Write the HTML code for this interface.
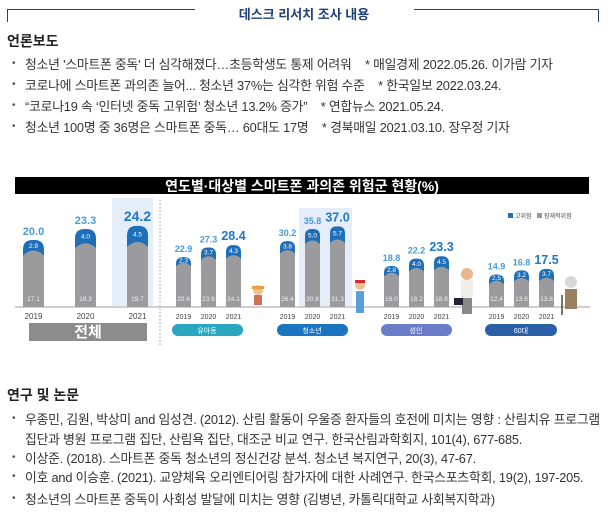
<!DOCTYPE html>
<html><head><meta charset="utf-8"><style>
body{margin:0;width:608px;height:525px;background:#fff;position:relative;overflow:hidden;font-family:"Liberation Sans","Noto Sans CJK KR",sans-serif;color:#333}
.a{position:absolute;white-space:nowrap}
.h{font-size:14px;font-weight:bold;color:#222}
.b{font-size:12.8px;letter-spacing:-0.2px;left:25px;line-height:16px}
.d{position:absolute;left:12px;font-size:10px;color:#555}
</style></head><body>
<div class="a" style="left:7px;top:9px;width:187px;height:12px;border-top:1.5px solid #1f3f75;border-left:1.5px solid #1f3f75"></div>
<div class="a" style="left:414px;top:9px;width:184px;height:12px;border-top:1.5px solid #1f3f75;border-right:1.5px solid #1f3f75"></div>
<div class="a" style="left:200px;top:4px;width:208px;text-align:center;font-size:13px;font-weight:bold;color:#1f3f75">데스크 리서치 조사 내용</div>
<div class="a h" style="left:7px;top:31px">언론보도</div>
<div class="d" style="top:58px">•</div><div class="a b" style="top:57px">청소년 '스마트폰 중독' 더 심각해졌다…초등학생도 통제 어려워 &nbsp;&nbsp; * 매일경제 2022.05.26. 이가람 기자</div>
<div class="d" style="top:79px">•</div><div class="a b" style="top:78px">코로나에 스마트폰 과의존 늘어... 청소년 37%는 심각한 위험 수준 &nbsp;&nbsp; * 한국일보 2022.03.24.</div>
<div class="d" style="top:100px">•</div><div class="a b" style="top:99px">“코로나19 속 ‘인터넷 중독 고위험’ 청소년 13.2% 증가” &nbsp;&nbsp; * 연합뉴스 2021.05.24.</div>
<div class="d" style="top:121px">•</div><div class="a b" style="top:120px">청소년 100명 중 36명은 스마트폰 중독… 60대도 17명 &nbsp;&nbsp; * 경북매일 2021.03.10. 장우정 기자</div>

<svg class="a" style="left:0;top:0" width="608" height="525" font-family="Liberation Sans, Noto Sans CJK KR, sans-serif">
<rect x="15" y="177" width="574" height="17" fill="#000"/>
<text x="302" y="191" fill="#fff" font-size="14" font-weight="bold" text-anchor="middle">연도별·대상별 스마트폰 과의존 위험군 현황(%)</text>
<rect x="112" y="198" width="41" height="109" fill="#e4edf8"/>
<rect x="299" y="208" width="53" height="99" fill="#e4edf8"/>
<line x1="15" y1="307" x2="590" y2="307" stroke="#cfcfcf" stroke-width="2"/>
<line x1="160" y1="200" x2="160" y2="345" stroke="#999" stroke-dasharray="1.5,2"/>
<rect x="508" y="213" width="5" height="5" fill="#1f6fb8"/><text x="515" y="218" font-size="6" fill="#444">고위험</text>
<rect x="537" y="213" width="5" height="5" fill="#999"/><text x="544" y="218" font-size="6" fill="#444">잠재적위험</text>
<g id="bars"></g>
<rect x="29" y="323" width="118" height="18" fill="#8c8c8c"/><text x="88" y="337" fill="#fff" font-size="15" font-weight="bold" text-anchor="middle">전체</text>
<rect x="172" y="324" width="71" height="12" rx="6" fill="#2aa6c0"/><text x="207" y="333" fill="#fff" font-size="7" text-anchor="middle">유아동</text>
<rect x="277" y="324" width="71" height="12" rx="6" fill="#1a74c0"/><text x="312" y="333" fill="#fff" font-size="7" text-anchor="middle">청소년</text>
<rect x="381" y="324" width="71" height="12" rx="6" fill="#6b7dc9"/><text x="416" y="333" fill="#fff" font-size="7" text-anchor="middle">성인</text>
<rect x="485" y="324" width="72" height="12" rx="6" fill="#2a5fa8"/><text x="521" y="333" fill="#fff" font-size="7" text-anchor="middle">60대</text>
<g><circle cx="258" cy="290" r="5" fill="#f0c090"/><rect x="254" y="295" width="8" height="10" fill="#d0705a"/><rect x="252" y="286" width="12" height="3" fill="#e8a040"/></g>
<g><circle cx="360" cy="285" r="5" fill="#f0c090"/><rect x="355" y="280" width="10" height="3" fill="#d03030"/><rect x="356" y="291" width="8" height="22" fill="#5aa0d8"/></g>
<g><circle cx="467" cy="274" r="6" fill="#e8b890"/><rect x="461" y="280" width="12" height="18" fill="#f0eee8"/><rect x="462" y="298" width="10" height="16" fill="#888"/><rect x="454" y="298" width="9" height="7" fill="#223"/></g>
<g><circle cx="571" cy="282" r="6" fill="#d8d8d8"/><rect x="565" y="289" width="12" height="20" fill="#9a8060"/><line x1="562" y1="295" x2="562" y2="315" stroke="#543" stroke-width="1.5"/></g>
</svg>

<div class="a h" style="left:7px;top:385px">연구 및 논문</div>
<div class="d" style="top:413px">•</div><div class="a b" style="top:412px">우종민, 김원, 박상미 and 임성견. (2012). 산림 활동이 우울증 환자들의 호전에 미치는 영향 : 산림치유 프로그램</div>
<div class="a b" style="top:432px">집단과 병원 프로그램 집단, 산림욕 집단, 대조군 비교 연구. 한국산림과학회지, 101(4), 677-685.</div>
<div class="d" style="top:452px">•</div><div class="a b" style="top:451px">이상준. (2018). 스마트폰 중독 청소년의 정신건강 분석. 청소년 복지연구, 20(3), 47-67.</div>
<div class="d" style="top:471px">•</div><div class="a b" style="top:470px">이호 and 이승훈. (2021). 교양체육 오리엔티어링 참가자에 대한 사례연구. 한국스포츠학회, 19(2), 197-205.</div>
<div class="d" style="top:493px">•</div><div class="a b" style="top:492px">청소년의 스마트폰 중독이 사회성 발달에 미치는 영향 (김병년, 카톨릭대학교 사회복지학과)</div>
<script>
var g=document.getElementById('bars'),s='';
function bar(x,w,sc,t,hi,lo,yr,big){
 var B=307,top=B-t*sc,gt=top+hi*sc,r=w/2.2;
 s+='<path d="M'+x+' '+B+'V'+(top+r)+'Q'+x+' '+top+' '+(x+r)+' '+top+'H'+(x+w-r)+'Q'+(x+w)+' '+top+' '+(x+w)+' '+(top+r)+'V'+B+'Z" fill="#1f6fb8"/>';
 s+='<path d="M'+x+' '+B+'V'+(gt+r*0.6)+'Q'+(x+w/2)+' '+(gt-r*0.4)+' '+(x+w)+' '+(gt+r*0.6)+'V'+B+'Z" fill="#9b9b9d"/>';
 var cx=x+w/2;
 s+='<text x="'+cx+'" y="'+(top-5)+'" font-size="'+(big?(w>18?14:12.5):(w>18?11:9))+'" font-weight="bold" fill="'+(big?'#1f78c8':'#4a9ad8')+'" text-anchor="middle">'+t.toFixed(1)+'</text>';
 s+='<text x="'+cx+'" y="'+((top+gt)/2+3)+'" font-size="6.5" fill="#fff" text-anchor="middle">'+hi.toFixed(1)+'</text>';
 s+='<text x="'+cx+'" y="301" font-size="6.5" fill="#eee" text-anchor="middle">'+lo.toFixed(1)+'</text>';
 s+='<text x="'+cx+'" y="319" font-size="'+(w>18?8:7)+'" fill="#444" text-anchor="middle">'+yr+'</text>';
}
var Y=[2019,2020,2021];
[[20.0,2.9,17.1],[23.3,4.0,19.3],[24.2,4.5,19.7]].forEach(function(d,i){bar(23+52*i,21,3.35,d[0],d[1],d[2],Y[i],i==2)});
var G=[[176,[[22.9,2.3,20.6],[27.3,3.7,23.6],[28.4,4.3,24.1]]],[280,[[30.2,3.8,26.4],[35.8,5.0,30.8],[37.0,5.7,31.3]]],[384,[[18.8,2.8,16.0],[22.2,4.0,18.2],[23.3,4.5,18.8]]],[489,[[14.9,2.5,12.4],[16.8,3.2,13.6],[17.5,3.7,13.8]]]];
G.forEach(function(gr){gr[1].forEach(function(d,i){bar(gr[0]+25*i,15,2.18,d[0],d[1],d[2],Y[i],i==2)})});
g.innerHTML=s;
</script>
</body></html>
